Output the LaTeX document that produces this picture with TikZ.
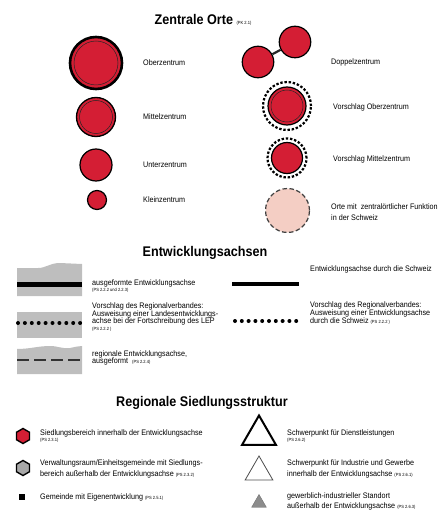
\documentclass[tikz,border=0pt]{standalone}
\usepackage{fontspec}
\setmainfont[FakeStretch=0.9]{Liberation Sans}
\usepackage{tikz}
\usetikzlibrary{shapes.geometric,positioning}
\definecolor{ortred}{RGB}{212,30,52}
\definecolor{ortpink}{RGB}{244,206,196}
\definecolor{achsgrey}{RGB}{190,190,190}
\definecolor{hexgrey}{RGB}{168,168,168}
\definecolor{trigrey}{RGB}{140,140,140}
\newcommand{\pssize}{\fontsize{4.5}{5}\selectfont}

\begin{document}
\begin{tikzpicture}[x=1pt, y=-1pt,
   title/.style={inner sep=0, font=\fontsize{14}{14}\selectfont\bfseries},
   lbl/.style={anchor=west, inner sep=0, align=left, font=\fontsize{8}{7.6}\selectfont},
   ort/.style={circle, draw=black, fill=ortred, inner sep=0, line width=1.2pt},
   ring/.style={draw=black!85, line width=0.5pt},
   vorschlag/.style={circle, draw=black, inner sep=0, line width=2.2pt, dash pattern=on 2.4pt off 1.8pt},
   axisbar/.style={line width=4.5pt},
   hexa/.style={regular polygon, regular polygon sides=6, shape border rotate=30, minimum size=15pt, inner sep=0, draw=black, line width=1.4pt}]
   \useasboundingbox (0,0) rectangle (443,513);

   % Zentrale Orte
   \node[title] (t1) at (203,20) {Zentrale Orte {\mdseries\pssize (PK 2.1)}};
   \begin{scope}[every node/.style={ort}]
    \node (oz) [line width=2.6pt, minimum size=52pt] at (96,63) {};
    \node (mz) [line width=1.3pt, minimum size=39pt] at (96,117) {};
    \node (uz) [minimum size=32pt] at (96,165) {};
    \node (kz) [minimum size=19pt] at (97,200) {};
    \node (d1) [minimum size=31.5pt] at (258,62) {};
    \node (d2) [minimum size=31.5pt] at (295,42) {};
    \node (voz) [minimum size=38pt] at (287,106) {};
    \node (vmz) [minimum size=31pt] at (287,158) {};
   \end{scope}
   \draw[ring] (oz) circle (22);
   \draw[ring] (mz) circle (16.5);
   \draw[ring] (voz) circle (16);
   \draw[line width=2.2pt, black!85] (d1) -- (d2);
   \node[vorschlag, minimum size=48pt] (voz-r) at (voz) {};
   \node[vorschlag, minimum size=39pt] (vmz-r) at (vmz) {};
   \node[circle, fill=ortpink, draw=black!75, line width=1.2pt, dash pattern=on 4.5pt off 2.5pt, minimum size=44pt] (ch) at (287.5,210.5) {};

   \begin{scope}[every node/.style={lbl}]
    \node (l-oz) at (143,63) {Oberzentrum};
    \node (l-mz) at (143,117) {Mittelzentrum};
    \node (l-uz) at (143,165) {Unterzentrum};
    \node (l-kz) at (143,200) {Kleinzentrum};
    \node (l-dz) at (331,62) {Doppelzentrum};
    \node (l-voz) at (333,107) {Vorschlag Oberzentrum};
    \node (l-vmz) at (333,159) {Vorschlag Mittelzentrum};
    \node (l-ch) at (331,212) {Orte mit\ \ zentralörtlicher Funktion\\[3pt]in der Schweiz};
   \end{scope}

   % Entwicklungsachsen
   \node[title] (t2) at (205,253) {Entwicklungsachsen};
   \fill[achsgrey] (17,268) -- (38,268) .. controls (46,268) and (50,263) .. (60,263) -- (82,264) -- (82,296) -- (17,296) -- cycle;
   \draw[axisbar] (17,284.5) -- (82,284.5);
   \fill[achsgrey] (17,312) rectangle (82,338);
   \foreach \i in {0,...,9}
     \fill (18+6.9*\i,323) circle (2);
   \fill[achsgrey] (17,349) .. controls (30,349) and (38,346) .. (50,346) .. controls (58,346) and (62,349) .. (70,348) .. controls (75,347) and (78,346) .. (82,346) -- (82,374) -- (17,374) -- cycle;
   \draw[line width=1.5pt, black!80, dash pattern=on 11.5pt off 5.5pt] (17,360) -- (82,360);
   \draw[axisbar] (232,284) -- (299,284);
   \foreach \i in {0,...,9}
     \fill (235+6.8*\i,321) circle (2);

   \begin{scope}[every node/.style={lbl}]
    \node (l-aa) at (92,286) {ausgeformte Entwicklungsachse\\[-1.5pt]{\pssize(PS 2.2.2 und 2.2.3)}};
    \node (l-vr) at (92,317) {Vorschlag des Regionalverbandes:\\Ausweisung einer Landesentwicklungs-\\achse bei der Fortschreibung des LEP\\[-1.5pt]{\pssize(PS 2.2.2\ )}};
    \node (l-ra) at (92,358) {regionale Entwicklungsachse,\\ausgeformt\ \ {\pssize(PS 2.2.4)}};
    \node (l-cha) at (310,269) {Entwicklungsachse durch die Schweiz};
    \node (l-vrc) at (310,313) {Vorschlag des Regionalverbandes:\\Ausweisung einer Entwicklungsachse\\durch die Schweiz {\pssize(PS 2.2.2\ )}};
   \end{scope}

   % Regionale Siedlungsstruktur
   \node[title] (t3) at (202,403) {Regionale Siedlungsstruktur};
   \node[hexa, fill=ortred] (sb) at (23,436) {};
   \node[hexa, fill=hexgrey] (vg) at (23,468) {};
   \node[fill=black, inner sep=0, minimum size=5.5pt] (ge) at (22,497) {};
   \node[regular polygon, regular polygon sides=3, draw=black, line width=2pt, inner sep=0, minimum size=39pt] (sd) at (259,435) {};
   \node[regular polygon, regular polygon sides=3, draw=black!70, line width=0.8pt, inner sep=0, minimum size=32pt] (si) at (259,472) {};
   \node[regular polygon, regular polygon sides=3, fill=trigrey, draw=trigrey!80!black, line width=0.4pt, inner sep=0, minimum size=17pt] (gi) at (259,503) {};

   \begin{scope}[every node/.style={lbl}]
    \node (l-sb) at (40,436) {Siedlungsbereich innerhalb der Entwicklungsachse\\[-1.5pt]{\pssize(PS 2.3.1)}};
    \node (l-vg) at (40,469) {Verwaltungsraum/Einheitsgemeinde mit Siedlungs-\\[3pt]bereich außerhalb der Entwicklungsachse {\pssize(PS 2.3.2)}};
    \node (l-ge) at (40,497) {Gemeinde mit Eigenentwicklung {\pssize(PS 2.5.1)}};
    \node (l-sd) at (287,436) {Schwerpunkt für Dienstleistungen\\[-1.5pt]{\pssize(PS 2.6.2)}};
    \node (l-si) at (287,469) {Schwerpunkt für Industrie und Gewerbe\\[3pt]innerhalb der Entwicklungsachse {\pssize(PS 2.6.1)}};
    \node (l-gi) at (287,501.5) {gewerblich-industrieller Standort\\[3pt]außerhalb der Entwicklungsachse {\pssize(PS 2.6.3)}};
   \end{scope}
\end{tikzpicture}
\end{document}
